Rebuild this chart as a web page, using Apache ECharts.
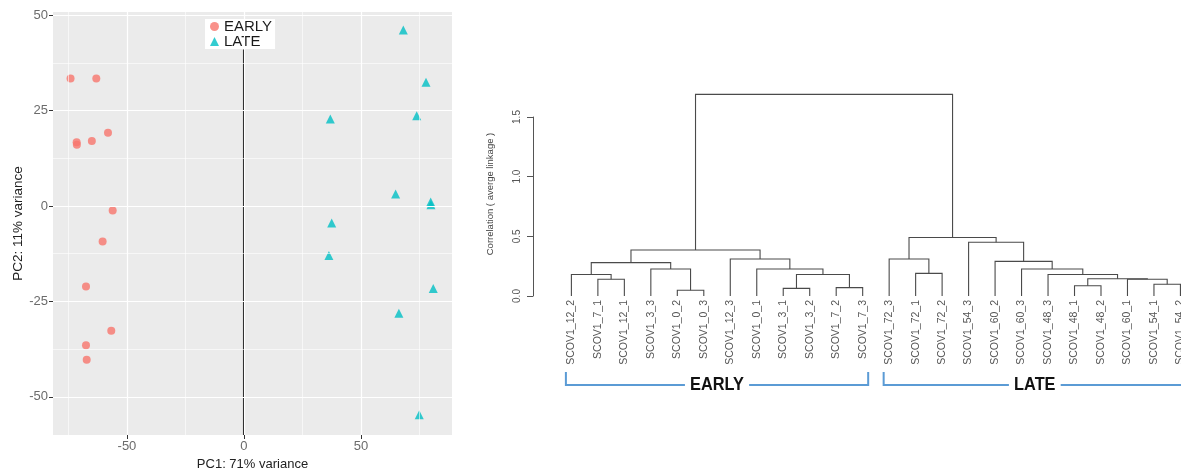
<!DOCTYPE html>
<html><head><meta charset="utf-8">
<script src="https://cdn.jsdelivr.net/npm/echarts@6/dist/echarts.min.js"></script>
<style>html,body{margin:0;padding:0;background:#fff}#c{width:1181px;height:469px}</style>
</head><body><div id="c"></div>
<script>
// ---- PCA data (PC1, PC2) ----
const pcaEarly = [[-74.1,33.4],[-63.1,33.4],[-58.1,19.2],[-65.0,17.0],[-71.5,16.7],[-71.4,16.0],[-56.1,-1.2],[-60.4,-9.3],[-67.5,-21.1],[-56.7,-32.7],[-67.5,-36.5],[-67.2,-40.3]];
const pcaLate = [[68.1,46.1],[77.8,32.4],[73.8,23.6],[36.9,22.8],[64.8,3.1],[79.8,1.0],[79.9,0.3],[37.5,-4.5],[36.3,-13.0],[80.9,-21.6],[66.2,-28.1],[74.9,-54.7]];
const pcaXTicks = [-50, 0, 50];
const pcaYTicks = [-50, -25, 0, 25, 50];
const pcaXMinor = [-75, -25, 25, 75];
const pcaYMinor = [-37.5, -12.5, 12.5, 37.5];
const centerLine = [[0,-60],[0,41]];

// ---- Dendrogram data ----
const leaves = ['SCOV1_12_2','SCOV1_7_1','SCOV1_12_1','SCOV1_3_3','SCOV1_0_2','SCOV1_0_3','SCOV1_12_3','SCOV1_0_1','SCOV1_3_1','SCOV1_3_2','SCOV1_7_2','SCOV1_7_3','SCOV1_72_3','SCOV1_72_1','SCOV1_72_2','SCOV1_54_3','SCOV1_60_2','SCOV1_60_3','SCOV1_48_3','SCOV1_48_1','SCOV1_48_2','SCOV1_60_1','SCOV1_54_1','SCOV1_54_2'];
// merges like R hclust: negative = leaf (1-based), positive = earlier merge (1-based)
const mergeA = [-5,-9,-11,-20,-23,-2,-22, 4,-1, 2,-19,-14,-4,-8,-18, 9,-17,-7,-13,16,-16,19,20];
const mergeB = [-6,-10,-12,-21,-24,-3, 5, 7, 6, 3,  8,-15, 1,10, 11,13, 15,14, 12,18, 17,21,22];
const mergeH = [0.048,0.064,0.07,0.086,0.098,0.14,0.14,0.145,0.18,0.18,0.18,0.19,0.226,0.226,0.226,0.28,0.29,0.31,0.31,0.385,0.45,0.49,1.69];
const dendroTicks = [0, 0.5, 1.0, 1.5];
const groupNames = ['EARLY','LATE'];
const groupSpans = [[0,11],[12,23]];

const chart = echarts.init(document.getElementById('c'), null, {renderer:'canvas'});

const leafIdx = leaves.map((_, i) => i);
const nodeX = [], nodeH = [];
function pos(id){ return id < 0 ? [-id-1, 0] : [nodeX[id-1], nodeH[id-1]]; }
const segs = [];
for (let k=0;k<mergeA.length;k++){
  const a = pos(mergeA[k]), b = pos(mergeB[k]);
  nodeX.push((a[0]+b[0])/2); nodeH.push(mergeH[k]);
  segs.push([a[0], a[1], b[0], b[1], mergeH[k]]);
}

const FONT = 'Liberation Sans, Arial, sans-serif';
const gridMarks = [];
pcaXTicks.forEach(v=>gridMarks.push({xAxis:v, lineStyle:{width:1.2}}));
pcaXMinor.forEach(v=>gridMarks.push({xAxis:v, lineStyle:{width:0.6}}));
pcaYTicks.forEach(v=>gridMarks.push({yAxis:v, lineStyle:{width:1.2}}));
pcaYMinor.forEach(v=>gridMarks.push({yAxis:v, lineStyle:{width:0.6}}));

const option = {
  animation:false,
  backgroundColor:'#fff',
  textStyle:{fontFamily:FONT},
  grid:[
    {left:53, top:12, width:399, height:423, show:true, backgroundColor:'#EBEBEB', borderWidth:0, containLabel:false, outerBoundsMode:'none'},
    {left:533, top:117, width:650, height:179, show:false, containLabel:false, outerBoundsMode:'none'}
  ],
  legend:{
    data:[{name:'EARLY', icon:'circle'},{name:'LATE', icon:'triangle'}],
    left:205, top:19, orient:'vertical', backgroundColor:'#fff',
    padding:[0,3,0,5], itemGap:0, itemWidth:9, itemHeight:9,
    textStyle:{fontSize:15, color:'#1a1a1a', lineHeight:15, fontFamily:FONT}
  },
  xAxis:[
    {gridIndex:0, type:'value', min:-81.6, max:88.9, splitLine:{show:false},
     axisLine:{show:false, onZero:false}, axisTick:{show:true, length:4, lineStyle:{color:'#333'}, customValues:pcaXTicks},
     axisLabel:{customValues:pcaXTicks, fontSize:13, color:'#6b6b6b', margin:5},
     name:'PC1: 71% variance', nameLocation:'middle', nameGap:20,
     nameTextStyle:{fontSize:13, color:'#222'}},
    {gridIndex:1, type:'value', min:-1.45, max:-1.45 + 650/26.48, position:'bottom',
     axisLine:{show:false, onZero:false}, axisTick:{show:false}, splitLine:{show:false},
     axisLabel:{customValues:leafIdx, formatter:v=>leaves[Math.round(v)], rotate:90,
       fontSize:10.5, color:'#555', margin:4, showMinLabel:true, showMaxLabel:true, hideOverlap:false}}
  ],
  yAxis:[
    {gridIndex:0, type:'value', min:-60, max:50.8, splitLine:{show:false},
     axisLine:{show:false, onZero:false}, axisTick:{show:true, length:4, lineStyle:{color:'#333'}, customValues:pcaYTicks},
     axisLabel:{customValues:pcaYTicks, fontSize:13, color:'#6b6b6b', margin:5},
     name:'PC2: 11% variance', nameLocation:'middle', nameGap:25, nameRotate:90,
     nameTextStyle:{fontSize:13.5, color:'#222'}},
    {gridIndex:1, type:'value', min:0, max:1.5, interval:0.5,
     splitLine:{show:false},
     axisLine:{show:true, onZero:false, lineStyle:{color:'#555', width:1}},
     axisTick:{show:true, length:6, lineStyle:{color:'#555'}},
     axisLabel:{rotate:90, fontSize:10, color:'#555', margin:11, formatter:v=>v.toFixed(1)}}
  ],
  series:[
    {type:'line', name:'grid', xAxisIndex:0, yAxisIndex:0, data:[], silent:true, z:1,
     markLine:{silent:true, symbol:['none','none'], label:{show:false}, animation:false,
       lineStyle:{color:'#ffffff', type:'solid'}, emphasis:{disabled:true}, data:gridMarks}},
    {type:'line', name:'center', xAxisIndex:0, yAxisIndex:0, data:centerLine, symbol:'none',
     lineStyle:{color:'#1a1a1a', width:2}, silent:true, z:2},
    {type:'scatter', name:'EARLY', xAxisIndex:0, yAxisIndex:0, data:pcaEarly, symbol:'circle', symbolSize:8,
     itemStyle:{color:'#F8766D'}, z:3},
    {type:'scatter', name:'LATE', xAxisIndex:0, yAxisIndex:0, data:pcaLate, symbol:'triangle', symbolSize:9,
     itemStyle:{color:'#00BFC4'}, z:3},
    {type:'custom', name:'dendro', xAxisIndex:1, yAxisIndex:1, data:segs, clip:false, silent:true,
     encode:{x:[0,2], y:[1,3,4]},
     renderItem:function(params, api){
       const p1 = api.coord([api.value(0), api.value(1)]);
       const p2 = api.coord([api.value(0), api.value(4)]);
       const p3 = api.coord([api.value(2), api.value(4)]);
       const p4 = api.coord([api.value(2), api.value(3)]);
       return {type:'polyline', shape:{points:[p1,p2,p3,p4]}, style:{stroke:'#4a4a4a', lineWidth:1.1, fill:null}};
     }}
  ]
};
chart.setOption(option);

const g = [];
g.push({type:'text', x:490, y:194, rotation:Math.PI/2,
  style:{text:'Correlation ( averge linkage )', fontSize:9.5, fill:'#444', fontFamily:FONT, align:'center', verticalAlign:'middle'}});
groupSpans.forEach((sp, i)=>{
  const x0 = chart.convertToPixel({xAxisIndex:1}, sp[0]) - 5.5;
  const x1 = chart.convertToPixel({xAxisIndex:1}, sp[1]) + 5.5;
  const yTop = 372, yB = 385;
  g.push({type:'polyline', shape:{points:[[x0,yTop],[x0,yB],[x1,yB],[x1,yTop]]}, style:{stroke:'#5b9bd5', lineWidth:2, fill:null}});
  g.push({type:'text', x:(x0+x1)/2, y:yB, z:10, scaleX:0.86,
    style:{text:groupNames[i], fontSize:19, fontWeight:'bold', fill:'#111', fontFamily:'Liberation Sans Narrow, Arial Narrow, Liberation Sans, sans-serif',
      align:'center', verticalAlign:'middle', backgroundColor:'#fff', padding:[0,6]}});
});
chart.setOption({graphic:g});
</script></body></html>
